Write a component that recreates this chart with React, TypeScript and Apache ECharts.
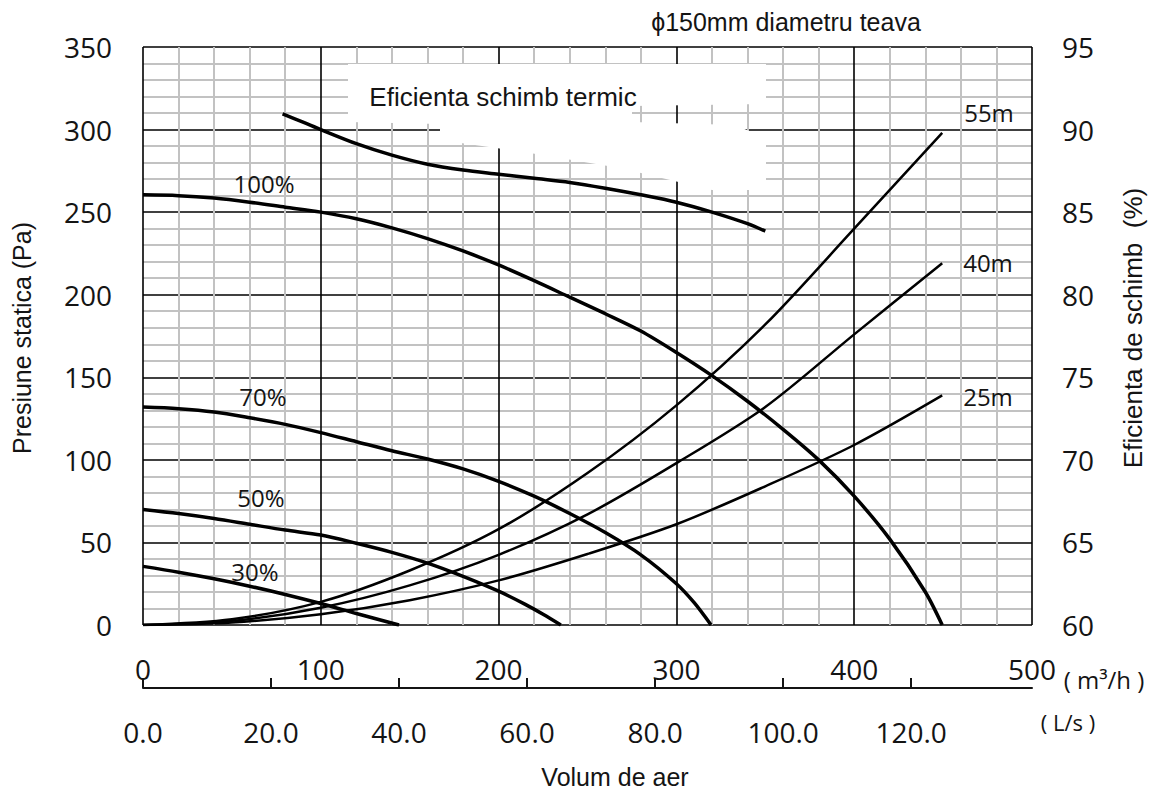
import React, { useEffect, useRef } from 'react';
import * as echarts from 'echarts';

// Flow (m3/h) vs static pressure (Pa) — fan curves
const fan100: [number, number][] = [
  [0, 260.5], [20, 260], [40, 258.5], [60, 256], [80, 253], [100, 250], [120, 246],
  [140, 240.5], [160, 234], [180, 226.5], [200, 218], [220, 208.5], [240, 198.5], [260, 188.5],
  [280, 178], [300, 165], [320, 151], [340, 135.5], [360, 118.5], [380, 100], [400, 78],
  [420, 52], [440, 20], [449.5, 0],
];
const fan70: [number, number][] = [
  [0, 132], [20, 131], [40, 129], [60, 125.5], [80, 121.5], [100, 116.5], [120, 111],
  [140, 105.5], [160, 100.5], [180, 94.5], [200, 87], [220, 78], [240, 67.5], [260, 56],
  [280, 42.5], [300, 25], [310, 13.5], [319.5, 0],
];
const fan50: [number, number][] = [
  [0, 70], [20, 67.5], [40, 64.5], [60, 61], [80, 57.5], [100, 54.5], [120, 49.5], [140, 44],
  [160, 37.5], [180, 29.5], [200, 20.5], [215, 12.5], [225, 6.5], [235, 0],
];
const fan30: [number, number][] = [
  [0, 35.5], [20, 32], [40, 28], [60, 23.5], [80, 18.5], [100, 13], [120, 7], [144, 0],
];

// Duct system curves
const duct55: [number, number][] = [
  [0, 0], [50, 3.5], [100, 14], [150, 33], [200, 58], [250, 92], [300, 133], [350, 182],
  [400, 240], [449.5, 298],
];
const duct40: [number, number][] = [
  [0, 0], [50, 2.5], [100, 10.5], [150, 24], [200, 42.5], [250, 67], [300, 98], [350, 132],
  [400, 176], [449.5, 219],
];
const duct25: [number, number][] = [
  [0, 0], [50, 1.5], [100, 6.5], [150, 15], [200, 27], [250, 43], [300, 61], [350, 84],
  [400, 109], [449.5, 139],
];

// Heat exchange efficiency (%) — right axis
const efficiency: [number, number][] = [
  [78.5, 90.95], [90, 90.45], [100, 90.0], [120, 89.15], [140, 88.45], [160, 87.9], [180, 87.55],
  [200, 87.3], [220, 87.05], [240, 86.8], [260, 86.45], [280, 86.05], [300, 85.6], [320, 85.0],
  [340, 84.3], [350, 83.85],
];

const flowMax = 500; // m3/h
const pressureMax = 350;
const effMin = 60;
const effMax = 95;

const TICK_FONT = '"Open Sans", sans-serif';
const NAME_FONT = '"Liberation Sans", Arial, sans-serif';
const INK = '#141414';

export default function App() {
  const ref = useRef<HTMLDivElement>(null);

  useEffect(() => {
    const chart = echarts.init(ref.current!, null, { renderer: 'svg' });

    const fanStyle = { color: '#000', width: 3.5 };
    const ductStyle = { color: '#000', width: 2.5 };
    const mk = (name: string, data: [number, number][], lineStyle: any, yAxisIndex = 0) => ({
      name,
      type: 'line',
      data,
      yAxisIndex,
      smooth: 0.3,
      showSymbol: false,
      symbol: 'none',
      lineStyle,
      z: 5,
    });

    const tickLabel = { fontSize: 28, fontFamily: TICK_FONT, color: INK };
    const curveLabel = (text: string, x: number, y: number) => ({
      type: 'text',
      x,
      y,
      z: 20,
      style: { text, fill: INK, font: `24px ${TICK_FONT}`, align: 'center', verticalAlign: 'middle' },
    });

    chart.setOption({
      animation: false,
      backgroundColor: '#fff',
      grid: { left: 143, top: 47, width: 889, height: 578, show: false },
      xAxis: [
        {
          type: 'value',
          min: 0,
          max: flowMax,
          interval: 100,
          position: 'bottom',
          axisLine: { show: false },
          axisTick: { show: false },
          axisLabel: { ...tickLabel, margin: 30 },
          splitLine: { show: true, lineStyle: { color: '#000', width: 1.6 } },
          minorTick: { show: false, splitNumber: 5 },
          minorSplitLine: { show: true, lineStyle: { color: '#c2c2c2', width: 2 } },
        },
        {
          type: 'value',
          min: 0,
          max: flowMax / 3.6,
          interval: 20,
          position: 'bottom',
          offset: 63,
          axisLine: { show: true, onZero: false, lineStyle: { color: INK, width: 2 } },
          axisTick: { show: true, inside: true, length: 10, lineStyle: { color: INK, width: 2 } },
          axisLabel: {
            ...tickLabel,
            margin: 30,
            showMaxLabel: false,
            formatter: (v: number) => v.toFixed(1),
          },
          splitLine: { show: false },
        },
      ],
      yAxis: [
        {
          type: 'value',
          min: 0,
          max: pressureMax,
          interval: 50,
          position: 'left',
          axisLine: { show: false },
          axisTick: { show: false },
          axisLabel: { ...tickLabel, margin: 31 },
          splitLine: { show: true, lineStyle: { color: '#000', width: 1.6 } },
          minorTick: { show: false, splitNumber: 5 },
          minorSplitLine: { show: true, lineStyle: { color: '#c2c2c2', width: 2 } },
        },
        {
          type: 'value',
          min: effMin,
          max: effMax,
          interval: 5,
          position: 'right',
          axisLine: { show: false },
          axisTick: { show: false },
          axisLabel: { ...tickLabel, margin: 30 },
          splitLine: { show: false },
        },
      ],
      series: [
        mk('100%', fan100, fanStyle),
        mk('70%', fan70, fanStyle),
        mk('50%', fan50, fanStyle),
        mk('30%', fan30, fanStyle),
        mk('55m', duct55, ductStyle),
        mk('40m', duct40, ductStyle),
        mk('25m', duct25, ductStyle),
        mk('Eficienta schimb termic', efficiency, fanStyle, 1),
      ],
      graphic: [
        {
          type: 'polygon',
          z: 1,
          shape: {
            points: [
              [348, 64], [766, 64], [766, 104], [632, 106], [632, 122], [735, 125], [766, 138],
              [766, 190], [712, 190], [620, 168], [530, 153], [440, 140], [440, 124], [348, 122],
            ],
          },
          style: { fill: '#fff' },
        },
        {
          type: 'text', x: 786, y: 22, z: 20,
          style: { text: 'ϕ150mm diametru teava', fill: INK, font: `25px ${NAME_FONT}`, align: 'center', verticalAlign: 'middle' },
        },
        {
          type: 'text', x: 503, y: 97, z: 20,
          style: { text: 'Eficienta schimb termic', fill: INK, font: `26px ${NAME_FONT}`, align: 'center', verticalAlign: 'middle' },
        },
        {
          type: 'text', x: 22, y: 338, z: 20, rotation: Math.PI / 2,
          style: { text: 'Presiune statica (Pa)', fill: INK, font: `25px ${NAME_FONT}`, align: 'center', verticalAlign: 'middle' },
        },
        {
          type: 'text', x: 1133, y: 328, z: 20, rotation: Math.PI / 2,
          style: { text: 'Eficienta de schimb  (%)', fill: INK, font: `26px ${NAME_FONT}`, align: 'center', verticalAlign: 'middle' },
        },
        {
          type: 'text', x: 615, y: 777, z: 20,
          style: { text: 'Volum de aer', fill: INK, font: `25px ${NAME_FONT}`, align: 'center', verticalAlign: 'middle' },
        },
        {
          type: 'text', x: 1104, y: 679, z: 20,
          style: { text: '( m³/h )', fill: INK, font: `24px ${TICK_FONT}`, align: 'center', verticalAlign: 'middle' },
        },
        {
          type: 'text', x: 1068, y: 722, z: 20,
          style: { text: '( L/s )', fill: INK, font: `22px ${TICK_FONT}`, align: 'center', verticalAlign: 'middle' },
        },
        curveLabel('100%', 264, 183),
        curveLabel('70%', 263, 396),
        curveLabel('50%', 261, 497),
        curveLabel('30%', 255, 571),
        curveLabel('55m', 989, 112),
        curveLabel('40m', 988, 262),
        curveLabel('25m', 988, 396),
      ],
    });

    return () => chart.dispose();
  }, []);

  return (
    <div
      ref={ref}
      style={{ position: 'absolute', left: 0, top: 0, width: 1162, height: 791, background: '#fff' }}
    />
  );
}
